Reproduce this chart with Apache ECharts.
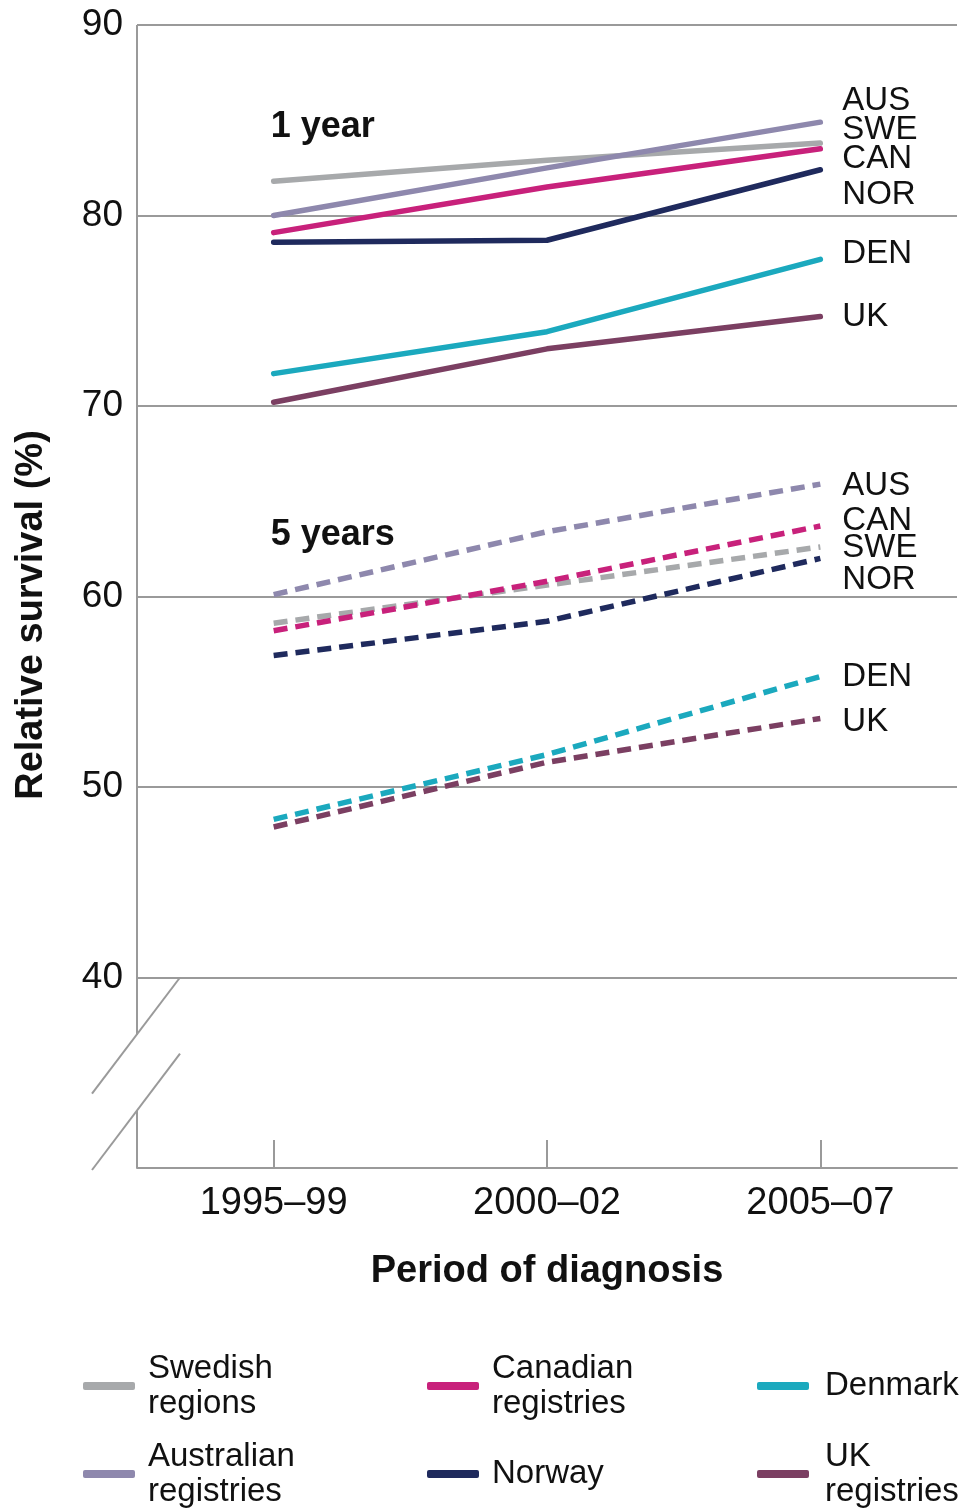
<!DOCTYPE html>
<html>
<head>
<meta charset="utf-8">
<script src="https://cdn.jsdelivr.net/npm/echarts@6/dist/echarts.min.js"></script>
<style>
html,body{margin:0;padding:0;background:#fff;}
#chart{width:959px;height:1509px;}
</style>
</head>
<body>
<div id="chart"></div>
<script>
const categories = ['1995–99', '2000–02', '2005–07'];
const seriesNames = ['Swedish regions', 'Australian registries', 'Canadian registries', 'Norway', 'Denmark', 'UK registries'];
const legendLabels = ['Swedish\nregions', 'Australian\nregistries', 'Canadian\nregistries', 'Norway', 'Denmark', 'UK\nregistries'];
const codes = ['SWE', 'AUS', 'CAN', 'NOR', 'DEN', 'UK'];
const yTicks = [30, 40, 50, 60, 70, 80, 90];

// 1-year relative survival
const swe1 = [81.8, 82.9, 83.8];
const aus1 = [80.0, 82.5, 84.9];
const can1 = [79.1, 81.5, 83.5];
const nor1 = [78.6, 78.7, 82.4];
const den1 = [71.7, 73.9, 77.7];
const uk1  = [70.2, 73.0, 74.7];
// 5-year relative survival
const swe5 = [58.6, 60.6, 62.6];
const aus5 = [60.1, 63.4, 65.9];
const can5 = [58.2, 60.8, 63.7];
const nor5 = [56.9, 58.7, 62.0];
const den5 = [48.3, 51.7, 55.8];
const uk5  = [47.9, 51.3, 53.6];

const oneYear = [swe1, aus1, can1, nor1, den1, uk1];
const fiveYear = [swe5, aus5, can5, nor5, den5, uk5];

// styling
const colors = ['#a7a9ab', '#8e88ad', '#c8217b', '#1f2a5d', '#1ba9be', '#7b3f62'];
const endOffset1 = [-13, -21, 10, 25, -5, 0];
const endOffset5 = [1, 2, -5, 22, 0, 3];
const FONT = '"Liberation Sans", Arial, Helvetica, sans-serif';
const GRID_L = 137, GRID_R = 2, GRID_T = 25, GRID_B = 341;
const AX = '#9a9a9a';

const chart = echarts.init(document.getElementById('chart'), null, {renderer: 'canvas'});

function makeSeries(data, i, dashed) {
  return {
    type: 'line',
    name: seriesNames[i],
    data: data,
    showSymbol: false,
    symbol: 'none',
    color: colors[i],
    z: 2 + i,
    lineStyle: {
      color: colors[i],
      width: 5.5,
      type: dashed ? [14, 8] : 'solid',
      cap: dashed ? 'butt' : 'round',
      join: 'round'
    },
    endLabel: {
      show: true,
      formatter: codes[i],
      color: '#111',
      fontFamily: FONT,
      fontSize: 33,
      distance: 0,
      offset: [22, dashed ? endOffset5[i] : endOffset1[i]],
      align: 'left',
      verticalAlign: 'middle'
    },
    emphasis: {disabled: true},
    animation: false
  };
}

const series = [];
oneYear.forEach((d, i) => series.push(makeSeries(d, i, false)));
fiveYear.forEach((d, i) => series.push(makeSeries(d, i, true)));

const legendPos = [
  {left: 83, center: 1386},
  {left: 83, center: 1474},
  {left: 427, center: 1386},
  {left: 427, center: 1474},
  {left: 757, center: 1386},
  {left: 757, center: 1474}
];
const LH = 35;
const legends = seriesNames.map((n, i) => {
  const lines = legendLabels[i].split('\n').length;
  return {
    data: [n],
    left: legendPos[i].left,
    top: legendPos[i].center - lines * LH / 2,
    padding: 0,
    icon: 'roundRect',
    itemWidth: 52,
    itemHeight: 8,
    selectedMode: false,
    formatter: () => legendLabels[i],
    textStyle: {
      color: '#111',
      fontFamily: FONT,
      fontSize: 33,
      lineHeight: LH,
      padding: [0, 0, 0, i >= 4 ? 11 : 8]
    }
  };
});

chart.setOption({
  animation: false,
  backgroundColor: '#fff',
  grid: {left: GRID_L, right: GRID_R, top: GRID_T, bottom: GRID_B, containLabel: false},
  legend: legends,
  xAxis: {
    type: 'category',
    data: categories,
    boundaryGap: true,
    name: 'Period of diagnosis',
    nameLocation: 'middle',
    nameGap: 85,
    nameTextStyle: {fontFamily: FONT, fontSize: 38, fontWeight: 'bold', color: '#111'},
    axisLine: {show: true, lineStyle: {color: AX, width: 2}},
    axisTick: {show: true, inside: true, length: 28, alignWithLabel: true, lineStyle: {color: AX, width: 2}},
    axisLabel: {fontFamily: FONT, fontSize: 38, color: '#111', margin: 17},
    splitLine: {show: false}
  },
  yAxis: {
    type: 'value',
    min: yTicks[0],
    max: yTicks[yTicks.length - 1],
    interval: 10,
    axisLine: {show: false},
    axisTick: {show: false},
    axisLabel: {
      fontFamily: FONT, fontSize: 37, color: '#111', margin: 14,
      formatter: v => (v === yTicks[0] ? '' : String(v))
    },
    splitLine: {show: true, lineStyle: {color: AX, width: 2}}
  },
  series: series
});

function yp(v) { return chart.convertToPixel({yAxisIndex: 0}, v); }
function xp(c) { return chart.convertToPixel({xAxisIndex: 0}, c); }
const x0 = GRID_L;
const lineStyle = {stroke: AX, lineWidth: 2};
chart.setOption({
  graphic: [
    {type: 'line', shape: {x1: x0, y1: yp(90), x2: x0, y2: yp(37.0)}, style: lineStyle, z: 50},
    {type: 'line', shape: {x1: x0, y1: yp(33.0), x2: x0, y2: yp(30)}, style: lineStyle, z: 50},
    {type: 'line', shape: {x1: x0 - 45, y1: yp(33.9), x2: x0 + 43, y2: yp(40)}, style: lineStyle, z: 50},
    {type: 'line', shape: {x1: x0 - 45, y1: yp(30) + 2, x2: x0 + 43, y2: yp(36.0)}, style: lineStyle, z: 50},
    {type: 'text', x: xp(categories[0]) - 3, y: yp(84.65), z: 50,
      style: {text: '1 year', font: 'bold 36px ' + FONT, fill: '#111', align: 'left', verticalAlign: 'middle'}},
    {type: 'text', x: xp(categories[0]) - 3, y: yp(63.25), z: 50,
      style: {text: '5 years', font: 'bold 36px ' + FONT, fill: '#111', align: 'left', verticalAlign: 'middle'}},
    {type: 'text', x: 32, y: 615, rotation: Math.PI / 2, z: 50,
      style: {text: 'Relative survival (%)', font: 'bold 38px ' + FONT, fill: '#111', align: 'center', verticalAlign: 'middle'}}
  ]
});
</script>
</body>
</html>
